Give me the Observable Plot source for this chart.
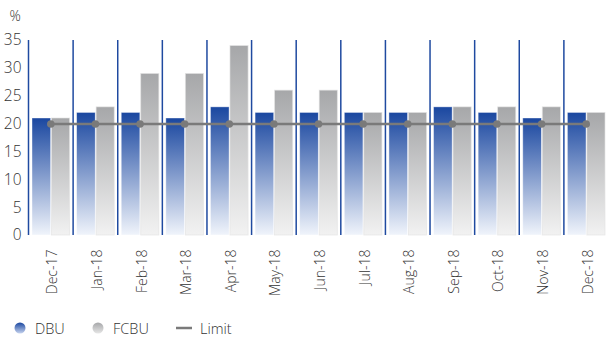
<!DOCTYPE html>
<html>
<head>
<meta charset="utf-8">
<script src="https://cdn.jsdelivr.net/npm/d3@7"></script>
<script src="https://cdn.jsdelivr.net/npm/@observablehq/plot@0.6"></script>
<style>
  body { margin: 0; background: #fff; font-family: "Open Sans", sans-serif; }
  #chart { position: relative; width: 608px; height: 342px; }
  .legend { position: absolute; left: 0; top: 318px; height: 20px; width: 608px; font-size: 14.5px; font-weight: 300; color: #333; }
  .legend .item { position: absolute; top: 0; display: flex; align-items: center; height: 20px; }
  .legend svg { margin-right: 6px; }
</style>
</head>
<body>
<div id="chart"></div>
<script>
// Monthly ratio (%) for the two business units and the regulatory limit
const months = ["Dec-17", "Jan-18", "Feb-18", "Mar-18", "Apr-18", "May-18", "Jun-18",
                "Jul-18", "Aug-18", "Sep-18", "Oct-18", "Nov-18", "Dec-18"];
const dbu   = [21, 22, 22, 21, 23, 22, 22, 22, 22, 23, 22, 21, 22];
const fcbu  = [21, 23, 29, 29, 34, 26, 26, 22, 22, 23, 23, 23, 22];
const limit = [20, 20, 20, 20, 20, 20, 20, 20, 20, 20, 20, 20, 20];
const yTicks = [0, 5, 10, 15, 20, 25, 30, 35];

const rows = months.map((m, i) => ({month: m, dbu: dbu[i], fcbu: fcbu[i], limit: limit[i]}));

const width = 608, height = 305;
const marginLeft = 28, marginRight = 0;
const step = (width - marginLeft - marginRight) / months.length;

const chart = Plot.plot({
  width, height,
  marginTop: 40, marginBottom: 70, marginLeft, marginRight,
  style: {fontFamily: "'Open Sans', sans-serif", fontWeight: 300, color: "#333", background: "#fff"},
  x: {domain: months, padding: 0, round: false, label: null},
  y: {domain: [0, 35], label: null},
  marks: [
    Plot.axisY({ticks: yTicks, tickSize: 0, tickPadding: 7, fontSize: 15.5, fill: "#333"}),
    Plot.axisX({tickRotate: -90, tickSize: 0, tickPadding: 14, fontSize: 14, fill: "#333", dx: 2}),
    Plot.text(["%"], {frameAnchor: "top-left", dx: -19, dy: -29, fontSize: 14, fill: "#333"}),
    // group separators
    Plot.ruleX(rows, {x: "month", y1: 0, y2: 35, dx: -step / 2, stroke: "#1f4aa0", strokeWidth: 1.5}),
    Plot.barY(rows, {x: "month", y: "dbu", insetLeft: 4, insetRight: 22,
      fill: "url(#gradDBU)", stroke: "#ffffff", strokeOpacity: 0.5, strokeWidth: 0.8}),
    Plot.barY(rows, {x: "month", y: "fcbu", insetLeft: 23.5, insetRight: 3,
      fill: "url(#gradFCBU)", stroke: "#e4e4e4", strokeOpacity: 0.8, strokeWidth: 0.8}),
    Plot.lineY(rows, {x: "month", y: "limit", stroke: "#7a7a7a", strokeWidth: 2.5}),
    Plot.dot(rows, {x: "month", y: "limit", r: 3.8, fill: "#7a7a7a"})
  ]
});

// gradient definitions used by the bars
const defs = d3.create("svg:defs");
function grad(id, top, bottom) {
  const g = defs.append("linearGradient").attr("id", id)
    .attr("x1", 0).attr("y1", 0).attr("x2", 0).attr("y2", 1);
  g.append("stop").attr("offset", "0%").attr("stop-color", top);
  g.append("stop").attr("offset", "100%").attr("stop-color", bottom);
}
grad("gradDBU", "#1a47a0", "#f0f4fb");
grad("gradFCBU", "#a6a7a9", "#f2f2f2");
chart.insertBefore(defs.node(), chart.firstChild);

const root = document.getElementById("chart");
root.appendChild(chart);

// legend
const legend = document.createElement("div");
legend.className = "legend";
legend.innerHTML = `
  <div class="item" style="left:14px"><svg width="12" height="12"><defs><linearGradient id="lgB" x1="0" y1="0" x2="0" y2="1"><stop offset="0" stop-color="#1a47a0"/><stop offset="1" stop-color="#c6d3ee"/></linearGradient></defs><circle cx="6" cy="6" r="5.5" fill="url(#lgB)"/></svg><span style="margin-left:3px">DBU</span></div>
  <div class="item" style="left:92px"><svg width="12" height="12"><defs><linearGradient id="lgG" x1="0" y1="0" x2="0" y2="1"><stop offset="0" stop-color="#a6a7a9"/><stop offset="1" stop-color="#e6e6e6"/></linearGradient></defs><circle cx="6" cy="6" r="5.5" fill="url(#lgG)"/></svg><span style="margin-left:3px">FCBU</span></div>
  <div class="item" style="left:176px"><svg width="18" height="12"><line x1="0" y1="6" x2="16" y2="6" stroke="#7a7a7a" stroke-width="2.5"/></svg><span>Limit</span></div>`;
root.appendChild(legend);
</script>
</body>
</html>
